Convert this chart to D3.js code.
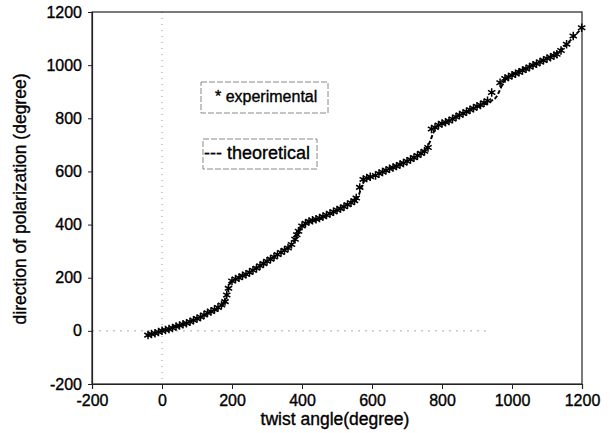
<!DOCTYPE html>
<html><head><meta charset="utf-8">
<script src="https://cdn.jsdelivr.net/npm/d3@7"></script>
<style>body{margin:0;background:#fff}svg{display:block}text{font-family:"Liberation Sans",Arial,sans-serif;fill:#000;stroke:#000;stroke-width:0.35px}</style>
</head><body><svg id="c" width="611" height="433"></svg>
<script>
const xTicks=[-200,0,200,400,600,800,1000,1200];
const yTicks=[-200,0,200,400,600,800,1000,1200];
const theoX=[-40,0,50,100,150,175,185,195,210,250,300,350,375,385,395,410,460,500,540,560,570,580,600,660,700,750,765,775,785,810,850,900,940,955,965,975,990,1050,1100,1150,1175,1200];
const theoY=[-15,0,22,45,78,100,140,180,195,220,262,305,330,360,385,400,426,455,485,505,540,568,580,615,640,680,710,745,768,785,812,843,865,880,905,935,955,995,1025,1070,1105,1140];
const expX=[-40,-30,-20,-10,0,10,20,30,40,50,60,70,80,90,100,110,120,130,140,150,160,170,180,185,190,200,210,220,230,240,250,260,270,280,290,300,310,320,330,340,350,360,370,380,385,390,400,410,420,430,440,450,460,470,480,490,500,510,520,530,540,550,555,565,575,585,595,610,620,630,640,650,660,670,680,690,700,710,720,730,740,750,760,770,780,790,800,810,820,830,840,850,860,870,880,890,900,910,920,930,942,966,980,990,1000,1010,1020,1030,1040,1050,1060,1070,1080,1090,1100,1110,1120,1128,1140,1156,1175,1199];
const expY=[-16,-12,-9,-4,0,3,7,11,16,20,25,29,34,40,46,52,60,68,73,80,88,97,110,135,160,188,195,200,207,213,220,228,236,245,253,262,270,278,287,295,303,312,325,345,362,375,395,405,412,416,420,425,430,436,442,448,455,460,467,475,482,490,500,540,570,575,580,585,592,598,604,610,615,620,626,632,638,645,652,660,668,676,690,760,765,775,780,785,790,797,805,812,818,825,832,838,845,850,858,866,897,934,950,955,962,968,973,980,986,993,1000,1005,1012,1018,1025,1030,1036,1041,1055,1079,1110,1141];

const svg=d3.select("#c");
const x=d3.scaleLinear().domain([-200,1200]).range([92,582]);
const y=d3.scaleLinear().domain([-200,1200]).range([384,12]);
const fmt=d=>String(d);

// zero reference lines
svg.append("line").attr("x1",x(0)).attr("x2",x(0)).attr("y1",y(1200)).attr("y2",y(-200))
  .attr("stroke","#999").attr("stroke-width",1).attr("stroke-dasharray","1,5");
svg.append("line").attr("x1",x(-200)).attr("x2",x(930)).attr("y1",y(0)).attr("y2",y(0))
  .attr("stroke","#aaa").attr("stroke-width",1).attr("stroke-dasharray","2,5");

// frame
svg.append("rect").attr("x",x(-200)).attr("y",y(1200)).attr("width",x(1200)-x(-200)).attr("height",y(-200)-y(1200))
  .attr("fill","none").attr("stroke","#222").attr("stroke-width",1.2);

const xa=svg.append("g").attr("transform",`translate(0,${y(-200)})`)
  .call(d3.axisBottom(x).tickValues(xTicks).tickSize(5).tickPadding(6).tickFormat(fmt));
const ya=svg.append("g").attr("transform",`translate(${x(-200)},0)`)
  .call(d3.axisLeft(y).tickValues(yTicks).tickSize(4).tickPadding(6).tickFormat(fmt));
[xa,ya].forEach(g=>{g.select(".domain").attr("stroke","#222").attr("stroke-width",1.2);g.selectAll(".tick line").attr("stroke","#222");
  g.selectAll("text").style("font-size","16px").style("font-family","'Liberation Sans',Arial,sans-serif").attr("fill","#000");});

// theoretical dashed line
svg.append("path").datum(theoX.map((v,i)=>[v,theoY[i]]))
  .attr("d",d3.line().x(d=>x(d[0])).y(d=>y(d[1])).curve(d3.curveMonotoneX))
  .attr("fill","none").attr("stroke","#000").attr("stroke-width",2).attr("stroke-dasharray","4,2");

// experimental asterisks
const sym=d3.symbol().type(d3.symbolAsterisk).size(50);
svg.append("g").selectAll("path").data(expX.map((v,i)=>[v,expY[i]])).join("path")
  .attr("transform",d=>`translate(${x(d[0])},${y(d[1])})`).attr("d",sym)
  .attr("fill","none").attr("stroke","#000").attr("stroke-width",1.5);

// legend boxes
svg.append("rect").attr("x",201).attr("y",82).attr("width",127).attr("height",31)
  .attr("fill","none").attr("stroke","#888").attr("stroke-dasharray","6,2");
svg.append("text").attr("x",215).attr("y",102).style("font-size","16px").text("* experimental");
svg.append("rect").attr("x",203).attr("y",139).attr("width",114).attr("height",30)
  .attr("fill","none").attr("stroke","#888").attr("stroke-dasharray","6,2");
svg.append("text").attr("x",204).attr("y",159).style("font-size","18px").text("--- theoretical");

// axis titles
svg.append("text").attr("x",335).attr("y",425).attr("text-anchor","middle").style("font-size","17.5px").text("twist angle(degree)");
svg.append("text").attr("transform","translate(26,199) rotate(-90)").attr("text-anchor","middle").style("font-size","17.5px").text("direction of polarization (degree)");
</script></body></html>
